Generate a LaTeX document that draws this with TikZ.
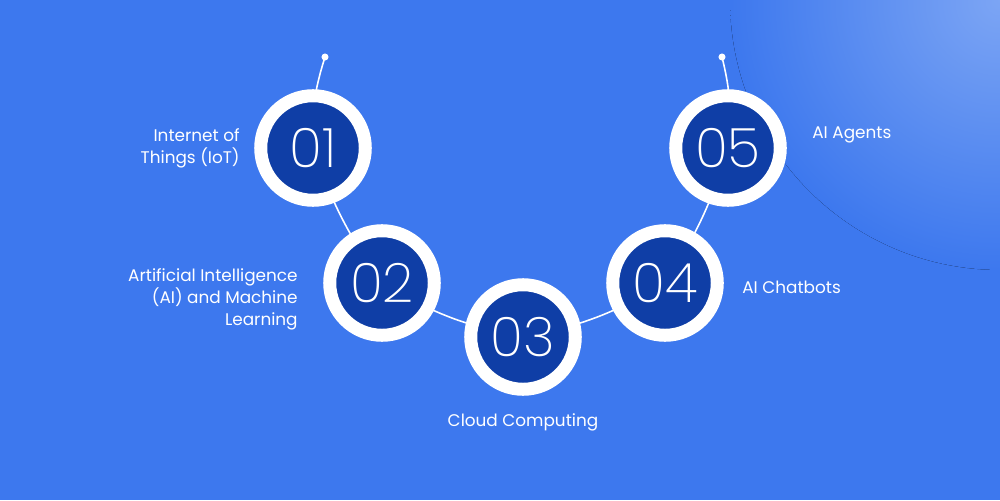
\documentclass[tikz,border=0pt]{standalone}
\usepackage{fontspec}
\setmainfont{Poppins}
\newfontfamily\digitfont{Poppins}[UprightFont=* ExtraLight]
\definecolor{bgblue}{HTML}{3D78EE}
\definecolor{glow}{HTML}{7CA5F4}
\definecolor{deepblue}{HTML}{0F3EA6}

\begin{document}
\begin{tikzpicture}[x=0.02cm, y=-0.02cm,
    ring/.style={circle, draw=white, line width=7.4pt, fill=deepblue, minimum size=59.5pt, inner sep=0pt, text=white, font=\digitfont\fontsize{31}{31}\selectfont},
    label/.style={text=white, font=\fontsize{9.6}{12.5}\selectfont, inner sep=0pt},
    link/.style={white, line width=0.9pt}]
    \useasboundingbox (0,0) rectangle (1000,500);
    % background with glow in the corner
    \fill[bgblue] (0,0) rectangle (1000,500);
    \begin{scope}
        \clip (0,0) rectangle (1000,500);
        \fill[inner color=glow, outer color=bgblue] (1000,0) circle [radius=5.4cm];
    \end{scope}
    % end points of the curve
    \coordinate (t1) at (325,57);
    \coordinate (t5) at (722,57);
    \draw[link] (t1) to[bend right=10] (313,148) to[bend right=8] (382,283)
        to[bend right=10] (523,337) to[bend right=10] (665,283)
        to[bend right=8] (728,148) to[bend right=10] (t5);
    \fill[white] (t1) circle [radius=2pt] (t5) circle [radius=2pt];
    % numbered rings
    \node[ring] (c1) at (313,148) {01};
    \node[ring] (c2) at (382,283) {02};
    \node[ring] (c3) at (523,337) {03};
    \node[ring] (c4) at (665,283) {04};
    \node[ring] (c5) at (728,148) {05};
    % labels
    \node[label, align=right, anchor=east] (l1) at (240,148) {Internet of\\Things (IoT)};
    \node[label, align=right, anchor=east] (l2) at (298,299) {Artificial Intelligence\\(AI) and Machine\\Learning};
    \node[label] (l3) at (523,422) {Cloud Computing};
    \node[label, anchor=west] (l4) at (742,287) {AI Chatbots};
    \node[label, anchor=west] (l5) at (812,135) {AI Agents};
\end{tikzpicture}
\end{document}
